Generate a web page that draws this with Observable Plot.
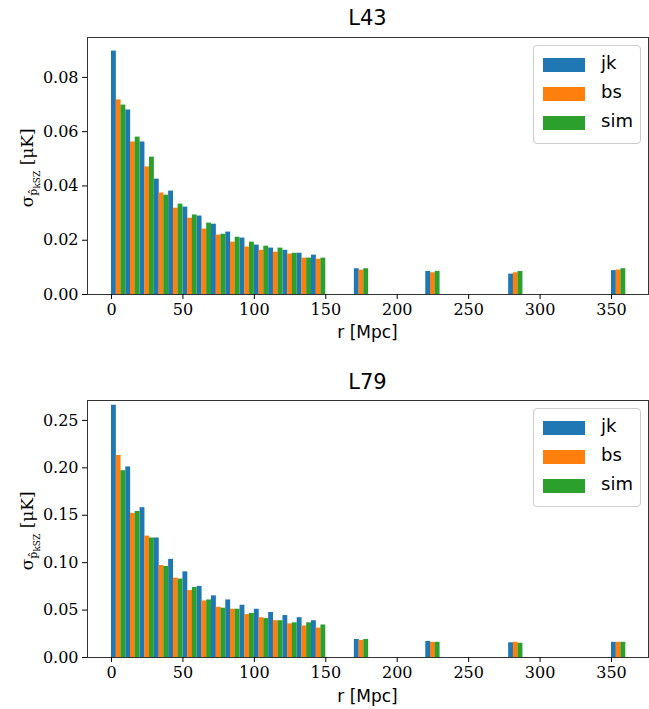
<!DOCTYPE html>
<html><head><meta charset="utf-8">
<script src="https://cdn.jsdelivr.net/npm/d3@7"></script>
<script src="https://cdn.jsdelivr.net/npm/@observablehq/plot@0.6"></script>
<style>
body{margin:0;background:#fff;width:649px;height:709px;position:relative;overflow:hidden;font-family:"DejaVu Sans",sans-serif}
.t{position:absolute;font-size:21px;text-align:center;width:561px;left:87px}
.yl{position:absolute;font-family:"DejaVu Serif",serif;font-size:17px;transform:rotate(-90deg);transform-origin:center;white-space:nowrap;width:160px;text-align:center}
.lg{position:absolute;left:533px;width:106px;height:97px;border:1px solid #ccc;border-radius:4px;background:rgba(255,255,255,.9);font-size:18px}
.lg div{position:absolute;left:9px;height:14px;width:42px}
.lg span{position:absolute;left:67px}
.p{position:absolute;left:0}
</style></head><body>
<script>
const centers = [5,15,25,35,45,55,65,75,85,95,105,115,125,135,145,175,225,283,355];
const series = ["jk","bs","sim"];
const colors = ["#1f77b4","#ff7f0e","#2ca02c"];
const L43_jk  = [0.0897,0.068,0.0562,0.0425,0.0381,0.0322,0.0289,0.0259,0.023,0.0208,0.0182,0.0171,0.0163,0.0152,0.0145,0.0095,0.0085,0.0075,0.0088];
const L43_bs  = [0.0717,0.0562,0.047,0.0374,0.0318,0.0281,0.0241,0.0219,0.0193,0.0175,0.0163,0.0156,0.0149,0.0134,0.013,0.009,0.008,0.008,0.009];
const L43_sim = [0.0698,0.058,0.0506,0.0366,0.0333,0.0293,0.0263,0.0222,0.0211,0.0193,0.0178,0.0171,0.0152,0.0134,0.0134,0.0095,0.0085,0.0085,0.0095];
const L79_jk  = [0.266,0.201,0.158,0.126,0.1035,0.0903,0.075,0.065,0.0607,0.0551,0.0509,0.0475,0.0442,0.042,0.0388,0.019,0.017,0.0155,0.016];
const L79_bs  = [0.213,0.152,0.128,0.097,0.0837,0.0706,0.0596,0.053,0.0509,0.0453,0.042,0.0388,0.0355,0.0333,0.031,0.018,0.016,0.016,0.016];
const L79_sim = [0.197,0.154,0.126,0.096,0.0827,0.0738,0.0607,0.052,0.0509,0.0465,0.041,0.0388,0.0366,0.0366,0.0343,0.019,0.016,0.015,0.016];
const xTicks = [0,50,100,150,200,250,300,350];

function rows(vals){
  const out=[];
  vals.forEach((arr,si)=>arr.forEach((v,i)=>out.push({r:centers[i],s:series[si],si,v})));
  return out;
}
function panel(vals, ymax, yticks, fmt, top, height, mt, mb){
  const data=rows(vals);
  const w=3.4;
  const p=Plot.plot({
    width:649,height,marginLeft:87,marginRight:1,marginTop:mt,marginBottom:mb,
    style:{fontFamily:"DejaVu Serif, serif",fontSize:"16px",background:"transparent"},
    x:{domain:[-16.8,375.9],ticks:xTicks,label:null,tickSize:5},
    y:{domain:[0,ymax],ticks:yticks,tickFormat:fmt,label:null,tickSize:5},
    color:{domain:series,range:colors},
    marks:[
      Plot.rectY(data,{x1:d=>d.r+(d.si-1)*3.3-w/2,x2:d=>d.r+(d.si-1)*3.3+w/2,y:"v",fill:"s"}),
      Plot.frame({stroke:"#333"}),
      Plot.axisX({ticks:xTicks,tickSize:5,label:null,fontSize:16}),
      Plot.axisY({ticks:yticks,tickFormat:fmt,tickSize:5,label:null,fontSize:16})
    ]
  });
  p.classList.add("p"); p.style.top=top+"px";
  document.body.appendChild(p);
}
panel([L43_jk,L43_bs,L43_sim],0.0947,[0,0.02,0.04,0.06,0.08],d=>d.toFixed(2),0,355,37,61);
panel([L79_jk,L79_bs,L79_sim],0.271,[0,0.05,0.10,0.15,0.20,0.25],d=>d.toFixed(2),355,354,45,52);

function html(s){document.body.insertAdjacentHTML("beforeend",s);}
html('<div class="t" style="top:6px">L43</div><div class="t" style="top:370px">L79</div>');
html('<div class="t" style="top:322px;font-size:17px">r [Mpc]</div><div class="t" style="top:686px;font-size:17px">r [Mpc]</div>');
const yl='σ<sub style="font-size:11px">p̂<sub style="font-size:9px">kSZ</sub></sub> [μK]';
html('<div class="yl" style="left:-50px;top:155px">'+yl+'</div><div class="yl" style="left:-50px;top:518px">'+yl+'</div>');
function legend(top){
  let s='<div class="lg" style="top:'+top+'px">';
  series.forEach((n,i)=>{s+='<div style="top:'+(12+i*29)+'px;background:'+colors[i]+'"></div><span style="top:'+(6+i*29)+'px">'+n+'</span>';});
  html(s+'</div>');
}
legend(45); legend(408);
</script>
</body></html>
